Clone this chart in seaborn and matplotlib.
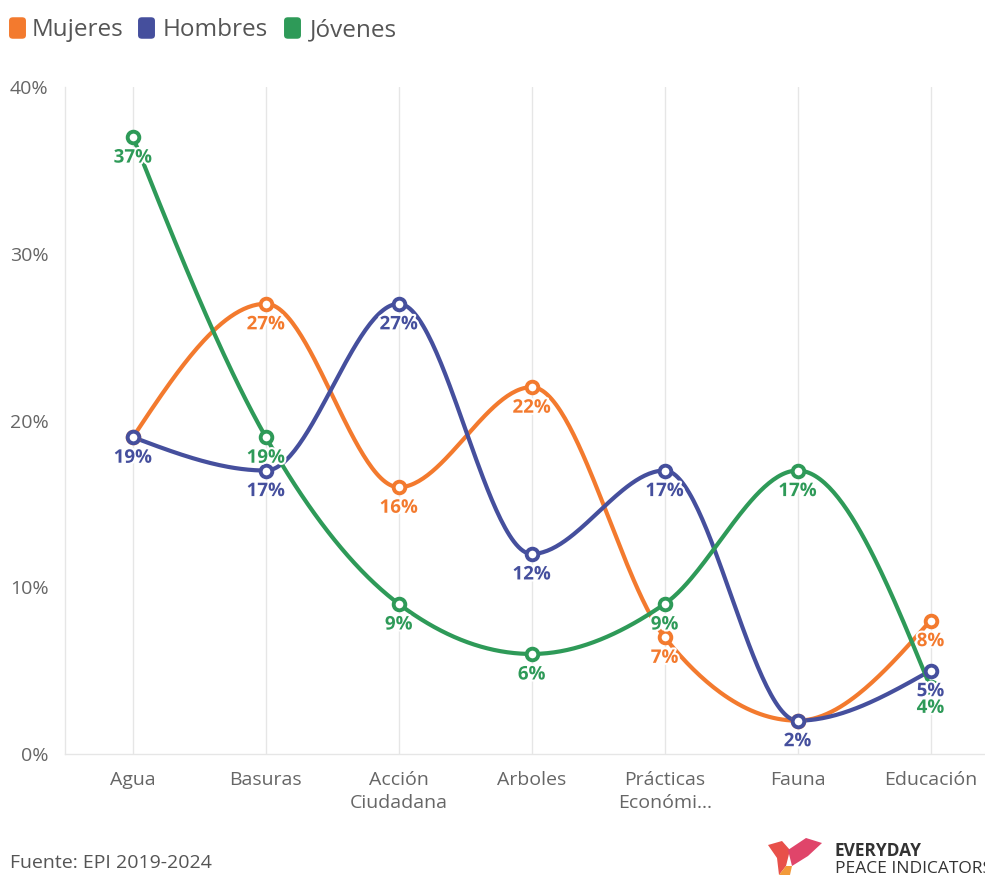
import numpy as np
import pandas as pd
import matplotlib
matplotlib.use("Agg")
import matplotlib.pyplot as plt
import seaborn as sns
from matplotlib.patches import FancyBboxPatch, Polygon
import matplotlib.patheffects as pe

categories = ["Agua", "Basuras", "Acción\nCiudadana", "Arboles", "Prácticas\nEconómi…", "Fauna", "Educación"]
mujeres = [19, 27, 16, 22, 7, 2, 8]
hombres = [19, 17, 27, 12, 17, 2, 5]
jovenes = [37, 19, 9, 6, 9, 17, 4]
series_names = ["Mujeres", "Hombres", "Jóvenes"]
series_values = [mujeres, hombres, jovenes]
colors = ["#F37A2E", "#454F9D", "#2E9A58"]
y_ticks = [0, 10, 20, 30, 40]
y_tick_labels = ["0%", "10%", "20%", "30%", "40%"]

sns.set_theme(style="white")
plt.rcParams["font.family"] = ["Open Sans", "DejaVu Sans"]


def monotone_x(xs, ys, n=60):
    xs = np.asarray(xs, float)
    ys = np.asarray(ys, float)
    h = np.diff(xs)
    s = np.diff(ys) / h
    m = len(xs)
    t = np.zeros(m)
    for i in range(1, m - 1):
        s0, s1 = s[i - 1], s[i]
        p = (s0 * h[i] + s1 * h[i - 1]) / (h[i - 1] + h[i])
        t[i] = (np.sign(s0) + np.sign(s1)) * min(abs(s0), abs(s1), 0.5 * abs(p))
    t[0] = (3 * s[0] - t[1]) / 2
    t[-1] = (3 * s[-1] - t[-2]) / 2
    out_x, out_y = [], []
    for i in range(m - 1):
        u = np.linspace(0, 1, n, endpoint=(i == m - 2))
        h00 = 2 * u**3 - 3 * u**2 + 1
        h10 = u**3 - 2 * u**2 + u
        h01 = -2 * u**3 + 3 * u**2
        h11 = u**3 - u**2
        out_x.append(xs[i] + u * h[i])
        out_y.append(h00 * ys[i] + h10 * h[i] * t[i] + h01 * ys[i + 1] + h11 * h[i] * t[i + 1])
    return np.concatenate(out_x), np.concatenate(out_y)


W, H = 985, 875
fig = plt.figure(figsize=(W / 100, H / 100), dpi=100)
ax_left, ax_right, ax_top, ax_bot = 65, 997, 87, 754
ax = fig.add_axes([ax_left / W, 1 - ax_bot / H, (ax_right - ax_left) / W, (ax_bot - ax_top) / H])

xpos = np.arange(len(categories))
grid_c = "#e6e6e6"

for name, vals, col in zip(series_names, series_values, colors):
    sx, sy = monotone_x(xpos, vals)
    curve = pd.DataFrame({"x": sx, "y": sy})
    sns.lineplot(data=curve, x="x", y="y", ax=ax, color=col, linewidth=3, sort=False, zorder=3)
    pts = pd.DataFrame({"x": xpos, "y": vals})
    sns.scatterplot(data=pts, x="x", y="y", ax=ax, s=70, facecolor="white", edgecolor=col,
                    linewidth=2.8, zorder=4)

for name, vals, col in zip(series_names, series_values, colors):
    for xi, v in zip(xpos, vals):
        ax.annotate(f"{v}%", (xi, v), xytext=(0, -14.8), textcoords="offset points",
                    ha="center", va="center", fontsize=13.5, fontweight="bold", color=col,
                    zorder=5, path_effects=[pe.withStroke(linewidth=3, foreground="white")])

ax.set_xlim(-0.511, 6.5)
ax.set_ylim(0, 40)
ax.set_xticks(xpos)
ax.set_xticklabels(categories, fontsize=14, color="#666666", linespacing=1.35)
ax.set_yticks(y_ticks)
ax.set_yticklabels(y_tick_labels, fontsize=14, color="#666666")
ax.tick_params(axis="both", length=8, width=1, color=grid_c, pad=4)
ax.tick_params(axis="x", pad=4)
ax.grid(axis="x", color=grid_c, linewidth=1)
ax.grid(axis="y", visible=False)
for side in ["top", "right"]:
    ax.spines[side].set_visible(False)
for side in ["left", "bottom"]:
    ax.spines[side].set_color(grid_c)
    ax.spines[side].set_linewidth(1)
ax.set_xlabel("")
ax.set_ylabel("")
ax.set_facecolor("white")

# legend
leg_items = [(9, 32), (138, 163), (284, 310)]
for (bx, tx), name, col in zip(leg_items, series_names, colors):
    rect = FancyBboxPatch(((bx + 2) / W, 1 - 37 / H), 13 / W, 18 / H,
                          boxstyle="round,pad=0.002,rounding_size=0.004",
                          transform=fig.transFigure, facecolor=col, edgecolor="none")
    fig.patches.append(rect)
    fig.text(tx / W, 1 - 30 / H, name, fontsize=17.5, color="#555555", va="center", ha="left")

fig.text(10 / W, 1 - 863 / H, "Fuente: EPI 2019-2024", fontsize=14, color="#555555",
         va="center", ha="left")

# logo
bird_shapes = [
    ([(768, 845), (782, 841), (790, 850), (786, 866), (779, 875), (777, 858)], "#E8504A"),
    ([(788, 850), (806, 838), (822, 843), (808, 856), (792, 866)], "#E0456A"),
    ([(779, 875), (786, 866), (792, 866), (790, 875)], "#F29A3A"),
]
for pts_px, c in bird_shapes:
    fig.patches.append(Polygon([(px / W, 1 - py / H) for px, py in pts_px], closed=True,
                               transform=fig.transFigure, facecolor=c, edgecolor="none"))
fig.text(835 / W, 1 - 851 / H, "EVERYDAY", fontsize=12.5, fontweight="bold", color="#333333",
         va="center", ha="left")
fig.text(835 / W, 1 - 869 / H, "PEACE INDICATORS", fontsize=12.5, color="#333333",
         va="center", ha="left")

fig.savefig("out.png", dpi=100, facecolor="white")
